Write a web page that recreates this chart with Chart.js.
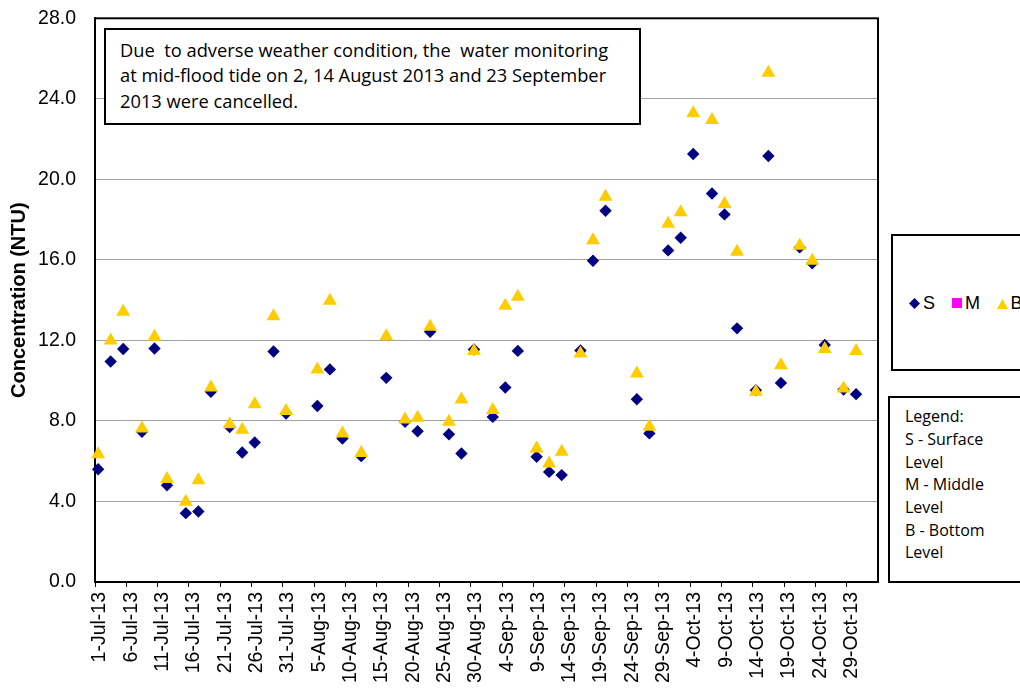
<!DOCTYPE html>
<html>
<head>
<meta charset="utf-8">
<script src="https://cdn.jsdelivr.net/npm/chart.js@4.4.1/dist/chart.umd.min.js"></script>
<style>
  html, body { margin: 0; padding: 0; background: #fff; }
  #wrap { position: relative; width: 1020px; height: 693px; overflow: hidden; }
  #chart { position: absolute; left: 0; top: 0; }
  .box { position: absolute; border: 2px solid #000; background: #fff; box-sizing: border-box; color: #000; }
  #note { left: 104px; top: 28px; width: 537px; height: 97px; font-family: 'Open Sans'; font-size: 18.3px;
          line-height: 25.7px; padding: 6.7px 0 0 14px; white-space: pre; }
  #legend { left: 891px; top: 234px; width: 160px; height: 137px; }
  #key { left: 888px; top: 396px; width: 160px; height: 187px; font-family: 'Open Sans'; font-size: 16px;
         line-height: 22.7px; padding: 7.2px 0 0 15px; }
  .lg { position: absolute; font-family: 'Liberation Sans', Arial; font-size: 18px; line-height: 18px; top: 294px; color: #000; }
  .mk { position: absolute; }
</style>
</head>
<body>
<div id="wrap">
  <canvas id="chart" width="1020" height="693"></canvas>
  <div class="box" id="note">Due  to adverse weather condition, the  water monitoring
at mid-flood tide on 2, 14 August 2013 and 23 September
2013 were cancelled.</div>
  <div class="box" id="legend"></div>
  <svg class="mk" style="left:909px;top:297.5px" width="11" height="11"><polygon points="5.5,0 11,5.5 5.5,11 0,5.5" fill="#000080"/></svg>
  <div class="lg" style="left:923px">S</div>
  <svg class="mk" style="left:952px;top:298px" width="10" height="10"><rect width="10" height="10" fill="#ff00ff"/></svg>
  <div class="lg" style="left:965px">M</div>
  <svg class="mk" style="left:997px;top:299px" width="11" height="10"><polygon points="5.5,0 11,10 0,10" fill="#ffcc00"/></svg>
  <div class="lg" style="left:1010.5px">B</div>
  <div class="box" id="key">Legend:<br>S - Surface<br>Level<br>M - Middle<br>Level<br>B - Bottom<br>Level</div>
</div>
<script>
// sampling days (mid-flood tide), values in NTU
const sampleDates = [
    '2013-07-01', '2013-07-03', '2013-07-05', '2013-07-08', '2013-07-10', '2013-07-12', '2013-07-15',
    '2013-07-17', '2013-07-19', '2013-07-22', '2013-07-24', '2013-07-26', '2013-07-29', '2013-07-31',
    '2013-08-05', '2013-08-07', '2013-08-09', '2013-08-12', '2013-08-16', '2013-08-19', '2013-08-21',
    '2013-08-23', '2013-08-26', '2013-08-28', '2013-08-30',
    '2013-09-02', '2013-09-04', '2013-09-06', '2013-09-09', '2013-09-11', '2013-09-13', '2013-09-16',
    '2013-09-18', '2013-09-20', '2013-09-25', '2013-09-27', '2013-09-30',
    '2013-10-02', '2013-10-04', '2013-10-07', '2013-10-09', '2013-10-11', '2013-10-14', '2013-10-16',
    '2013-10-18', '2013-10-21', '2013-10-23', '2013-10-25', '2013-10-28', '2013-10-30'
];
const surface = [
    5.6, 10.95, 11.57, 7.46, 11.6, 4.8, 3.42, 3.5, 9.45, 7.7, 6.43, 6.93, 11.45, 8.37,
    8.74, 10.56, 7.13, 6.25, 10.14, 7.96, 7.49, 12.43, 7.34, 6.38, 11.55,
    8.2, 9.66, 11.48, 6.22, 5.47, 5.31, 11.5, 15.96, 18.44, 9.08, 7.38, 16.47,
    17.1, 21.26, 19.3, 18.26, 12.6, 9.53, 21.16, 9.89, 16.62, 15.83, 11.77, 9.56, 9.33
];
const middle = []; // no middle level readings on this chart
const bottom = [
    6.35, 12.0, 13.42, 7.62, 12.18, 5.12, 3.98, 5.06, 9.66, 7.84, 7.56, 8.83, 13.2, 8.5,
    10.56, 13.97, 7.38, 6.41, 12.21, 8.07, 8.16, 12.68, 7.96, 9.07, 11.48,
    8.54, 13.72, 14.17, 6.63, 5.89, 6.47, 11.35, 16.98, 19.14, 10.36, 7.71, 17.8,
    18.36, 23.28, 22.95, 18.77, 16.4, 9.45, 25.3, 10.77, 16.7, 15.96, 11.57, 9.61, 11.48
];
const axisStart = '2013-07-01';
const axisEnd = '2013-11-03';
const lastTickDay = 120; // 29-Oct-13
const yTicks = [0, 4, 8, 12, 16, 20, 24, 28];
const monthNames = ['Jan', 'Feb', 'Mar', 'Apr', 'May', 'Jun', 'Jul', 'Aug', 'Sep', 'Oct', 'Nov', 'Dec'];

const DAY = 86400000;
function dayIndex(s) {
    return (Date.parse(s) - Date.parse(axisStart)) / DAY;
}
function dateLabel(v) {
    const d = new Date(Date.parse(axisStart) + v * DAY);
    return d.getUTCDate() + '-' + monthNames[d.getUTCMonth()] + '-' + String(d.getUTCFullYear()).slice(2);
}
function points(values) {
    // excel date axis puts each point in the middle of its day
    return values.map((v, i) => ({ x: dayIndex(sampleDates[i]) + 0.5, y: v }));
}

Chart.defaults.font.family = "'Liberation Sans', Arial, sans-serif";
Chart.defaults.color = '#000';

const frame = {
    id: 'plot_frame',
    beforeDatasetsDraw: (chart) => {
        const a = chart.chartArea;
        const ctx = chart.ctx;
        ctx.save();
        ctx.strokeStyle = '#000';
        ctx.lineWidth = 2;
        ctx.strokeRect(a.left, a.top, a.right - a.left, a.bottom - a.top);
        ctx.restore();
    }
};

new Chart(document.getElementById('chart'), {
    type: 'scatter',
    data: {
        datasets: [{
            label: 'S',
            data: points(surface),
            pointStyle: 'rectRot',
            pointRadius: 6.2,
            borderWidth: 0,
            backgroundColor: '#000080',
            borderColor: '#000080',
            order: 2,
            clip: false
        }, {
            label: 'M',
            data: points(middle),
            pointStyle: 'rect',
            pointRadius: 6,
            backgroundColor: '#ff00ff',
            borderColor: '#ff00ff',
            order: 1,
            clip: false
        }, {
            label: 'B',
            data: points(bottom),
            pointStyle: 'triangle',
            pointRadius: 8,
            borderWidth: 0,
            backgroundColor: '#ffcc00',
            borderColor: '#ffcc00',
            order: 0,
            clip: false
        }]
    },
    options: {
        responsive: false,
        animation: false,
        layout: { padding: { top: 18.3, right: 142, left: 0, bottom: 0 } },
        plugins: {
            legend: { display: false },
            tooltip: { enabled: false }
        },
        scales: {
            x: {
                type: 'linear',
                min: 0,
                max: dayIndex(axisEnd),
                afterBuildTicks: (axis) => {
                    axis.ticks = [];
                    for (let v = 0; v <= lastTickDay; v += 5) axis.ticks.push({ value: v });
                },
                afterFit: (axis) => {
                    axis.height = 111;
                    axis.paddingLeft = 0;
                    axis.paddingRight = 0;
                },
                grid: { drawOnChartArea: false, drawTicks: true, tickLength: 5, color: '#000', lineWidth: 1 },
                border: { color: '#000', width: 2 },
                ticks: {
                    autoSkip: false,
                    minRotation: 90,
                    maxRotation: 90,
                    padding: 5,
                    labelOffset: 5,
                    font: { size: 19.5 },
                    callback: (v) => dateLabel(v)
                }
            },
            y: {
                min: 0,
                max: 28,
                afterBuildTicks: (axis) => {
                    axis.ticks = yTicks.map(v => ({ value: v }));
                },
                afterFit: (axis) => {
                    axis.width = 95;
                    axis.paddingTop = 0;
                    axis.paddingBottom = 0;
                },
                grid: { color: '#a0a0a0', lineWidth: 1, drawTicks: false },
                border: { color: '#000', width: 2 },
                ticks: {
                    padding: 19,
                    font: { size: 19.5 },
                    callback: (v) => v.toFixed(1)
                },
                title: {
                    display: true,
                    text: 'Concentration (NTU)',
                    font: { size: 20, weight: 'bold' },
                    padding: { top: 7, bottom: 0 }
                }
            }
        }
    },
    plugins: [frame]
});
</script>
</body>
</html>
